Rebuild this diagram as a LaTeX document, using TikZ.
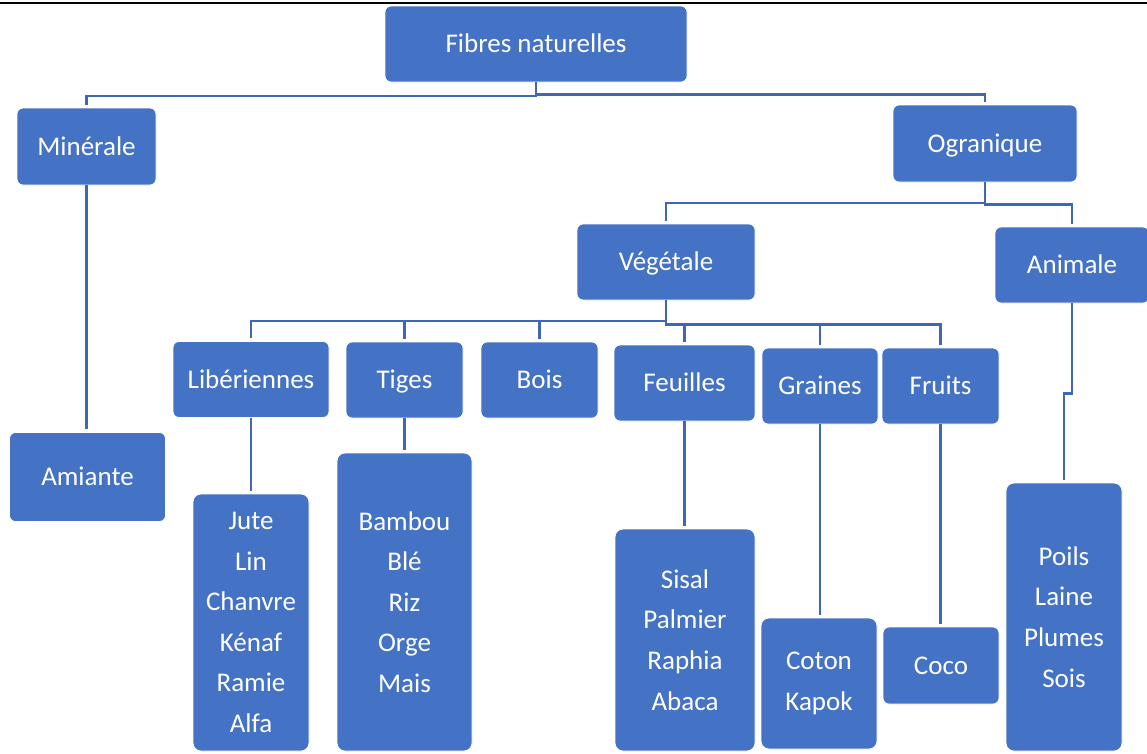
\documentclass[tikz,border=0pt]{standalone}
\usepackage{fontspec}
\setmainfont{Carlito}
\usepackage{tikz}
\usetikzlibrary{positioning}
\definecolor{boxblue}{RGB}{68,114,196}
\definecolor{lineblue}{RGB}{62,104,182}

\begin{document}
\begin{tikzpicture}[
    x=1pt, y=-1pt,
    cat/.style={rectangle, draw=white, line width=0.8pt, fill=boxblue, rounded corners=6pt, inner sep=0pt, text=white, font=\fontsize{27}{40.6}\selectfont, text height=17.4pt, text depth=0pt},
    list/.style={rectangle, draw=white, line width=0.8pt, fill=boxblue, rounded corners=8pt, inner sep=0pt, text=white, align=center, font=\fontsize{27}{40.6}\selectfont},
    link/.style={draw=lineblue, line width=2.5pt, shorten >=3pt},
]
\useasboundingbox (0,0) rectangle (1147,753);
% header rule
\draw[black, line width=2.2pt] (0,3) -- (1147,3);
% Root
\node[cat, minimum width=302, minimum height=76] (fibres) at (536,44) {Fibres naturelles};
% First level
\node[cat, minimum width=139, minimum height=77] (minerale) at (86.5,146.5) {Minérale};
\node[cat, minimum width=184, minimum height=77] (organique) at (985,143.5) {Ogranique};
% Second level
\node[cat, minimum width=178, minimum height=76] (vegetale) at (666,262) {Végétale};
\node[cat, minimum width=154, minimum height=76] (animale) at (1072,265) {Animale};
% Plant fibre groups
\node[cat, minimum width=156, minimum height=76] (liber) at (251,379.5) {Libériennes};
\node[cat, minimum width=117, minimum height=76] (tiges) at (404.5,380) {Tiges};
\node[cat, minimum width=117, minimum height=76] (bois) at (539.5,380) {Bois};
\node[cat, minimum width=141, minimum height=76] (feuilles) at (684.5,383) {Feuilles};
\node[cat, minimum width=116, minimum height=76] (graines) at (820,386) {Graines};
\node[cat, minimum width=117, minimum height=76] (fruits) at (940.5,386) {Fruits};
% Leaves
\node[cat, minimum width=156, minimum height=89] (amiante) at (87.5,477) {Amiante};
\node[list, minimum width=116, minimum height=257] (liberlist) at (251,622.5) {Jute\\Lin\\Chanvre\\Kénaf\\Ramie\\Alfa};
\node[list, minimum width=135, minimum height=298] (tigeslist) at (404.5,602) {Bambou\\Blé\\Riz\\Orge\\Mais};
\node[list, minimum width=140, minimum height=222] (feuilleslist) at (685,640) {Sisal\\Palmier\\Raphia\\Abaca};
\node[list, minimum width=116, minimum height=131] (graineslist) at (819,683.5) {Coton\\Kapok};
\node[cat, minimum width=116, minimum height=77] (fruitslist) at (941,665.5) {Coco};
\node[list, minimum width=116, minimum height=268] (animalelist) at (1064,617) {Poils\\Laine\\Plumes\\Sois};

% Connectors
\draw[link] (fibres.south) -- ++(0,13.7) -| (minerale.north);
\draw[link] (fibres.south) -- ++(0,12) -| (organique.north);
\draw[link] (organique.south) -- ++(0,20.7) -| (vegetale.north);
\draw[link] (organique.south) -- ++(0,22) -| (animale.north);
\foreach \n in {liber,tiges,bois}
  \draw[link] (vegetale.south) -- ++(0,20.7) -| (\n.north);
\foreach \n in {feuilles,graines,fruits}
  \draw[link] (vegetale.south) -- ++(0,24) -| (\n.north);
\draw[link] (minerale.south) -- (minerale.south |- amiante.north);
\foreach \n in {liber,tiges,feuilles,graines,fruits}
  \draw[link] (\n.south) -- (\n.south |- \n list.north);
\draw[link] (animale.south) -- ++(0,90) -| (animalelist.north);
\end{tikzpicture}
\end{document}
